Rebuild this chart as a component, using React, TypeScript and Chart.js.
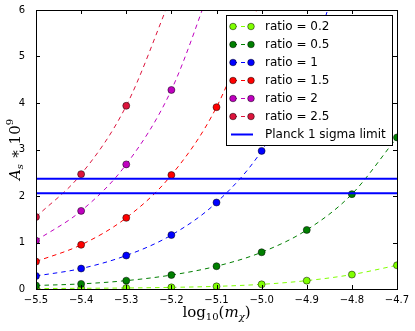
import React, { useEffect, useRef } from "react";
import { Chart, registerables } from "chart.js";
Chart.register(...registerables);

// ---- data ----
const logMass = [-5.5, -5.4, -5.3, -5.2, -5.1, -5.0, -4.9, -4.8, -4.7];
const ratio02 = [0.01, 0.015, 0.022, 0.035, 0.057, 0.1, 0.18, 0.31, 0.51];
const ratio05 = [0.075, 0.11, 0.18, 0.3, 0.49, 0.79, 1.27, 2.04, 3.26];
const ratio1 = [0.28, 0.44, 0.72, 1.16, 1.86, 2.97, 4.75, 7.6];
const ratio15 = [0.59, 0.95, 1.53, 2.45, 3.91, 6.25];
const ratio2 = [1.04, 1.68, 2.68, 4.28, 6.85];
const ratio25 = [1.55, 2.47, 3.94, 6.3];
const seriesLabels = ["ratio = 0.2", "ratio = 0.5", "ratio = 1", "ratio = 1.5", "ratio = 2", "ratio = 2.5"];
const planckLimits = [2.06, 2.37];
const planckLabel = "Planck 1 sigma limit";
const xTicks = [-5.5, -5.4, -5.3, -5.2, -5.1, -5.0, -4.9, -4.8, -4.7];
const yTicks = [0, 1, 2, 3, 4, 5, 6];

// ---- styles ----
const seriesColors = ["#7fff00", "#007f00", "#0000ff", "#ff0000", "#bf00bf", "#dc143c"];
const planckColor = "#0000ff";
const allSeries = [ratio02, ratio05, ratio1, ratio15, ratio2, ratio25];

function drawRich(ctx: CanvasRenderingContext2D, parts: { t: string; f: string; dy: number }[], cx: number, cy: number) {
  let total = 0;
  const widths = parts.map((p) => {
    ctx.font = p.f;
    const w = ctx.measureText(p.t).width;
    total += w;
    return w;
  });
  let x = cx - total / 2;
  ctx.textAlign = "left";
  ctx.textBaseline = "alphabetic";
  parts.forEach((p, i) => {
    ctx.font = p.f;
    ctx.fillText(p.t, x, cy + p.dy);
    x += widths[i];
  });
}

const decorPlugin = {
  id: "decor",
  afterDraw(chart: any) {
    const ctx: CanvasRenderingContext2D = chart.ctx;
    const a = chart.chartArea;
    const xs = chart.scales.x;
    const ys = chart.scales.y;
    ctx.save();
    ctx.strokeStyle = "#000";
    ctx.lineWidth = 1;
    // inward ticks
    ctx.beginPath();
    xTicks.forEach((v) => {
      const px = Math.round(xs.getPixelForValue(v)) + 0.5;
      ctx.moveTo(px, a.bottom);
      ctx.lineTo(px, a.bottom - 4);
      ctx.moveTo(px, a.top);
      ctx.lineTo(px, a.top + 4);
    });
    yTicks.forEach((v) => {
      const py = Math.round(ys.getPixelForValue(v)) + 0.5;
      ctx.moveTo(a.left, py);
      ctx.lineTo(a.left + 4, py);
      ctx.moveTo(a.right, py);
      ctx.lineTo(a.right - 4, py);
    });
    ctx.stroke();
    // frame
    ctx.strokeRect(Math.round(a.left) + 0.5, Math.round(a.top) + 0.5, Math.round(a.right - a.left), Math.round(a.bottom - a.top));

    // legend
    const lx = 226, ly = 15, lw = 166, lh = 130;
    ctx.fillStyle = "#fff";
    ctx.fillRect(lx, ly, lw, lh);
    ctx.strokeStyle = "#000";
    ctx.lineWidth = 1;
    ctx.strokeRect(lx + 0.5, ly + 0.5, lw, lh);
    ctx.font = "12px 'DejaVu Sans'";
    ctx.textBaseline = "middle";
    ctx.textAlign = "left";
    seriesLabels.forEach((lab, i) => {
      const y = 26.5 + 18 * i;
      const c = seriesColors[i];
      ctx.strokeStyle = c;
      ctx.lineWidth = 1;
      ctx.setLineDash([4, 4]);
      ctx.beginPath();
      ctx.moveTo(233, y);
      ctx.lineTo(251, y);
      ctx.stroke();
      ctx.setLineDash([]);
      [233, 251].forEach((mx) => {
        ctx.beginPath();
        ctx.arc(mx, y, 3.3, 0, Math.PI * 2);
        ctx.fillStyle = c;
        ctx.fill();
        ctx.strokeStyle = "#000";
        ctx.lineWidth = 0.5;
        ctx.stroke();
      });
      ctx.fillStyle = "#000";
      ctx.fillText(lab, 265, y + 0.5);
    });
    const py = 26.5 + 18 * 6;
    ctx.strokeStyle = planckColor;
    ctx.lineWidth = 2;
    ctx.beginPath();
    ctx.moveTo(231, py);
    ctx.lineTo(253, py);
    ctx.stroke();
    ctx.fillStyle = "#000";
    ctx.fillText(planckLabel, 265, py + 0.5);

    // axis titles
    ctx.fillStyle = "#000";
    drawRich(ctx, [
      { t: "log", f: "15px 'DejaVu Serif'", dy: 0 },
      { t: "10", f: "10px 'DejaVu Serif'", dy: 3 },
      { t: "(", f: "15px 'DejaVu Serif'", dy: 0 },
      { t: "m", f: "italic 15px 'DejaVu Serif'", dy: 0 },
      { t: "χ", f: "italic 10px 'DejaVu Serif'", dy: 3 },
      { t: ")", f: "15px 'DejaVu Serif'", dy: 0 },
    ], (a.left + a.right) / 2, 317);

    ctx.save();
    ctx.translate(20, (a.top + a.bottom) / 2);
    ctx.rotate(-Math.PI / 2);
    drawRich(ctx, [
      { t: "A", f: "italic 15px 'DejaVu Serif'", dy: 0 },
      { t: "s", f: "italic 10px 'DejaVu Serif'", dy: 3 },
      { t: " ∗ 10", f: "15px 'DejaVu Serif'", dy: 0 },
      { t: "9", f: "10px 'DejaVu Serif'", dy: -7 },
    ], 0, 0);
    ctx.restore();
    ctx.restore();
  },
};

export default function App() {
  const ref = useRef<HTMLCanvasElement | null>(null);
  useEffect(() => {
    if (!ref.current) return;
    const seriesSets = allSeries
      .map((vals, i) => ({
        label: seriesLabels[i],
        data: vals.map((v, j) => ({ x: logMass[j], y: v })),
        borderColor: seriesColors[i],
        backgroundColor: seriesColors[i],
        borderWidth: 1,
        borderDash: [4.5, 4],
        pointRadius: 3.5,
        pointBackgroundColor: seriesColors[i],
        pointBorderColor: "#000",
        pointBorderWidth: 0.5,
        cubicInterpolationMode: "monotone" as const,
        fill: false,
      }))
      .reverse();
    const planckSets = planckLimits.map((v, i) => ({
      label: i === 0 ? planckLabel : "",
      data: [
        { x: xTicks[0], y: v },
        { x: xTicks[xTicks.length - 1], y: v },
      ],
      borderColor: planckColor,
      borderWidth: 2,
      pointRadius: 0,
      fill: false,
    }));
    const chart = new Chart(ref.current, {
      type: "line",
      data: { datasets: [...planckSets, ...seriesSets] as any },
      options: {
        animation: false,
        responsive: false,
        layout: { padding: { top: 10, right: 18, left: 0, bottom: 0 } },
        plugins: { legend: { display: false }, tooltip: { enabled: false } },
        scales: {
          x: {
            type: "linear",
            min: xTicks[0],
            max: xTicks[xTicks.length - 1],
            grid: { display: false },
            border: { display: false },
            afterBuildTicks: (s: any) => {
              s.ticks = xTicks.map((v) => ({ value: v }));
            },
            afterFit: (s: any) => {
              s.height = 42;
            },
            ticks: {
              autoSkip: false,
              maxRotation: 0,
              padding: -3,
              color: "#000",
              font: { family: "'DejaVu Sans'", size: 10 },
              callback: (v: any) => Number(v).toFixed(1).replace("-", "\u2212"),
            },
          },
          y: {
            type: "linear",
            min: yTicks[0],
            max: yTicks[yTicks.length - 1],
            grid: { display: false },
            border: { display: false },
            afterBuildTicks: (s: any) => {
              s.ticks = yTicks.map((v) => ({ value: v }));
            },
            afterFit: (s: any) => {
              s.width = 36;
            },
            ticks: {
              padding: 3,
              color: "#000",
              font: { family: "'DejaVu Sans'", size: 10 },
              callback: (v: any) => String(v),
            },
          },
        },
      },
      plugins: [decorPlugin],
    });
    return () => chart.destroy();
  }, []);
  return (
    <div style={{ position: "fixed", left: 0, top: 0, width: 415, height: 331, background: "#fff" }}>
      <canvas ref={ref} width={415} height={331} style={{ width: 415, height: 331, display: "block" }} />
    </div>
  );
}
